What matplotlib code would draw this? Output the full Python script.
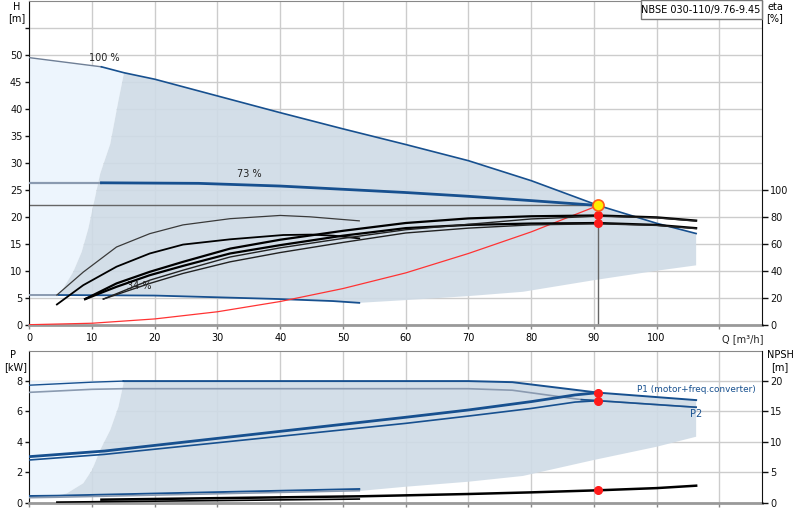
import matplotlib
matplotlib.use("Agg")
import matplotlib.pyplot as plt
from matplotlib.patches import Rectangle

# ---- data ----
# head curves (H [m] over Q [m3/h])
q100 = [0, 11.5, 15.1, 20, 30, 40, 50, 60, 70, 80, 90.7, 100, 106.3]
h100 = [49.5, 47.8, 46.7, 45.5, 42.4, 39.3, 36.3, 33.4, 30.4, 26.7, 22.1, 18.8, 16.9]
q73 = [0, 11.5, 27, 40, 60, 70, 80, 90.7]
h73 = [26.3, 26.3, 26.2, 25.7, 24.5, 23.8, 23.0, 22.1]
q34 = [0, 4.7, 20, 27.2, 40, 48.4, 52.6]
h34 = [5.5, 5.5, 5.4, 5.17, 4.75, 4.38, 4.05]

# operating area edges
edge_q = [4.7, 5.4, 7.0, 8.35, 9.4, 10.2, 11.3, 12.9, 14.2, 15.1]
edge_h = [5.5, 6.7, 9.8, 13.5, 17.8, 22.1, 28.0, 33.5, 41.5, 46.7]
low_q = [52.6, 60, 70, 78.7, 90, 100, 106.3]
low_h = [4.05, 4.56, 5.3, 6.1, 8.25, 10.0, 11.0]

# system curve
sys_q = [0, 10, 20, 30, 40, 50, 60, 70, 80, 90.7]
sys_h = [0, 0.27, 1.07, 2.4, 4.3, 6.7, 9.6, 13.2, 17.2, 22.1]

# efficiency curves (eta [%])
etaA_q = [4.4, 8.6, 13.9, 19.2, 24.5, 32, 40, 44.7, 52.6]
etaA = [22, 39, 57.6, 67.5, 74, 78.6, 81, 80, 77]
etaB_q = [4.4, 8.6, 13.9, 19.2, 24.5, 32, 40.5, 45, 48.5, 52.6]
etaB = [15, 29.3, 43, 52.8, 59.4, 63.3, 66.5, 66.8, 66, 64]
etaC_q = [8.9, 13.9, 19.2, 24.5, 32, 40, 50, 60, 70, 80, 90.7, 100, 106.3]
etaC1 = [19, 30.6, 39.2, 46.6, 56.4, 63, 69.6, 75.4, 78.8, 80.4, 81, 79.6, 77.2]
etaC2 = [19, 28.1, 36.7, 43.6, 52.8, 59, 66, 71.6, 74, 75, 75.4, 74, 71.6]
etaD_q = [11.8, 19.2, 24.5, 32, 40, 50, 60, 70, 80, 90.7, 100, 106.3]
etaD1 = [19, 33, 40.4, 50.2, 57, 64, 70.4, 74.4, 78.4, 80.4, 79.2, 76.8]
etaD2 = [19, 30.6, 38, 46.6, 53.5, 61, 68, 71.6, 74, 74.8, 73.6, 71.2]

# duty point
duty_q = 90.7
duty_h = 22.1
duty_eta = [81, 75.4]
duty_p = [7.24, 6.71]
duty_npsh = 2.04

# power curves (P [kW])
p100_q = [0, 10, 15, 70, 77, 90.7, 106.3]
p1_100 = [7.73, 7.93, 8.0, 8.0, 7.93, 7.24, 6.75]
p2_100_q = [0, 10, 15, 70, 77, 88, 90.7, 106.3]
p2_100 = [7.26, 7.46, 7.5, 7.5, 7.4, 6.78, 6.71, 6.28]
p73_q = [0, 12, 60, 70, 80, 87, 90.7]
p1_73 = [3.03, 3.4, 5.62, 6.1, 6.65, 7.09, 7.24]
p2_73 = [2.81, 3.18, 5.22, 5.7, 6.2, 6.62, 6.71]
p34_q = [0, 4.4, 52.6]
p1_34 = [0.44, 0.46, 0.9]
p2_34 = [0.33, 0.36, 0.79]
pedge_q = [4.4, 6.0, 8.6, 10.0, 11.3, 12.9, 14.2, 15.1]
pedge_p = [0.44, 0.62, 1.28, 2.15, 3.47, 4.78, 6.3, 8.0]
plow_q = [52.6, 60, 70, 78.7, 90, 100, 106.3]
plow_p = [0.77, 1.05, 1.38, 1.76, 2.81, 3.68, 4.34]

# NPSH curves [m]
npsh_q = [11.5, 30, 52.6, 60, 70, 80, 90.7, 100, 106.3]
npsh = [0.5, 0.75, 1.05, 1.21, 1.43, 1.7, 2.04, 2.4, 2.8]
npsh34_q = [4.4, 30, 52.6]
npsh34 = [0.1, 0.35, 0.6]

BLUE = '#17508f'
GREY_LINE = '#8a9ab0'
DARK_FILL = '#cfdbe6'
LIGHT_FILL = '#edf5fd'
GRID = '#cccccc'

plt.rcParams['font.family'] = 'DejaVu Sans'
plt.rcParams['font.size'] = 7

fig = plt.figure(figsize=(8, 5.2), dpi=100)
ax1 = fig.add_axes([0.03663, 0.37558, 0.91588, 0.6225])
ax2 = fig.add_axes([0.03663, 0.03327, 0.91588, 0.29231])


def style(ax):
    ax.set_xlim(0, 116.8)
    ax.set_xticks(range(0, 111, 10))
    ax.grid(True, color=GRID, lw=1.0, zorder=0)
    ax.set_axisbelow(True)
    ax.spines['left'].set_color('#111111')
    ax.spines['bottom'].set_color('#999999')
    ax.spines['bottom'].set_linewidth(2)
    ax.spines['top'].set_color('#888888')
    ax.spines['right'].set_visible(False)
    ax.tick_params(axis='y', length=3, width=1, pad=2, colors='#111111')
    ax.tick_params(axis='x', length=3, width=1, pad=3, color='#888888')


def twin(ax):
    tw = ax.twinx()
    for s in ['left', 'top', 'bottom']:
        tw.spines[s].set_visible(False)
    tw.spines['right'].set_color('#111111')
    tw.tick_params(axis='y', length=4, width=1, pad=2, colors='#111111')
    return tw


# ---------------- top panel ----------------
style(ax1)
ax1.set_ylim(0, 60)
ax1.set_yticks(range(0, 56, 5))
ax1.set_yticklabels([str(v) for v in range(0, 51, 5)] + [''])
ax1.set_xticklabels([str(v) for v in range(0, 101, 10)] + [''])

# light area (left of operating range)
lx = [0] + q100[:3] + edge_q[::-1] + [4.5, 0]
ly = [5.0] + h100[:3] + edge_h[::-1] + [5.0, 5.0]
ax1.fill(lx, ly, color=LIGHT_FILL, lw=0, zorder=1)
# operating area
dx = edge_q + q100[2:] + low_q[::-1] + q34[1:][::-1]
dy = edge_h + h100[2:] + low_h[::-1] + h34[1:][::-1]
ax1.fill(dx, dy, color=DARK_FILL, alpha=0.9, lw=0, zorder=1)

ax1.plot(q100[:2], h100[:2], color='#6f7f96', lw=1.0, zorder=3)
ax1.plot(q100[1:], h100[1:], color=BLUE, lw=1.2, zorder=3)
ax1.plot(q73[:2], h73[:2], color=GREY_LINE, lw=1.6, zorder=3)
ax1.plot(q73[1:], h73[1:], color=BLUE, lw=2.0, zorder=3)
ax1.plot(q34[:2], h34[:2], color=GREY_LINE, lw=1.4, zorder=3)
ax1.plot(q34[1:], h34[1:], color=BLUE, lw=1.3, zorder=3)

ax1.plot([0, duty_q], [duty_h, duty_h], color='#666666', lw=1.0, zorder=2)
ax1.plot([duty_q, duty_q], [0, duty_h], color='#666666', lw=1.0, zorder=2)
ax1.plot(sys_q, sys_h, color='#ff3333', lw=0.9, zorder=3)

ax1.text(11.9, 49.4, '100 %', ha='center', va='center', color='#222222')
ax1.text(35, 28.0, '73 %', ha='center', va='center', color='#222222')
ax1.text(17.5, 7.2, '34 %', ha='center', va='center', color='#222222')
ax1.text(110.5, -0.028, 'Q [m³/h]', transform=ax1.get_xaxis_transform(),
         ha='left', va='top', color='#222222')

ax1e = twin(ax1)
ax1e.set_ylim(0, 240)
ax1e.set_yticks(range(0, 101, 20))
ax1e.plot(etaA_q, etaA, color='#3a3a3a', lw=0.9)
ax1e.plot(etaB_q, etaB, color='black', lw=1.3)
ax1e.plot(etaC_q, etaC1, color='black', lw=1.6)
ax1e.plot(etaC_q, etaC2, color='black', lw=1.6)
ax1e.plot(etaD_q, etaD1, color='#222222', lw=1.0)
ax1e.plot(etaD_q, etaD2, color='#222222', lw=1.0)
ax1e.plot([duty_q] * 2, duty_eta, 'o', color='#ff1a1a', ms=5.5, zorder=5)
ax1e.plot([duty_q], [duty_h], 'o', transform=ax1.transData, ms=8,
          mfc='#ffee00', mec='#ff5a1a', mew=1.2, zorder=6)

# ---------------- bottom panel ----------------
style(ax2)
ax2.set_ylim(0, 10)
ax2.set_yticks(range(0, 9, 2))
ax2.set_xticklabels([])

ax2.fill([0, 15.1] + pedge_q[::-1] + [0], [8.0, 8.0] + pedge_p[::-1] + [0.4],
         color=LIGHT_FILL, lw=0, zorder=1)
dx2 = pedge_q + p100_q[3:] + plow_q[::-1] + p34_q[1:][::-1]
dy2 = pedge_p + p1_100[3:] + plow_p[::-1] + p1_34[1:][::-1]
ax2.fill(dx2, dy2, color=DARK_FILL, alpha=0.9, lw=0, zorder=1)

ax2.plot(p100_q[:3], p1_100[:3], color=BLUE, lw=1.0, zorder=3)
ax2.plot(p100_q[2:], p1_100[2:], color=BLUE, lw=1.4, zorder=3)
ax2.plot(p2_100_q, p2_100, color=GREY_LINE, lw=1.2, zorder=3)
ax2.plot(p2_100_q[5:], p2_100[5:], color=BLUE, lw=1.2, zorder=3)
ax2.plot(p73_q, p1_73, color=BLUE, lw=2.0, zorder=3)
ax2.plot(p73_q, p2_73, color=BLUE, lw=1.2, zorder=3)
ax2.plot(p34_q, p1_34, color=BLUE, lw=1.4, zorder=3)
ax2.plot(p34_q, p2_34, color=GREY_LINE, lw=1.2, zorder=3)
ax2.plot([duty_q] * 2, duty_p, 'o', color='#ff1a1a', ms=5.5, zorder=5)
ax2.text(96.8, 7.45, 'P1 (motor+freq.converter)', ha='left', va='center',
         color=BLUE, fontsize=6.4)
ax2.text(105.3, 5.85, 'P2', ha='left', va='center', color=BLUE)

ax2n = twin(ax2)
ax2n.set_ylim(0, 25)
ax2n.set_yticks(range(0, 21, 5))
ax2n.plot(npsh_q, npsh, color='black', lw=1.8)
ax2n.plot(npsh34_q, npsh34, color='black', lw=1.2)
ax2n.plot([duty_q], [duty_npsh], 'o', color='#ff1a1a', ms=5.5, zorder=5)

# axis titles
fig.text(17 / 800, 1 - 7 / 520, 'H', ha='center', va='center')
fig.text(17 / 800, 1 - 18 / 520, '[m]', ha='center', va='center')
fig.text(775 / 800, 1 - 7 / 520, 'eta', ha='center', va='center')
fig.text(775 / 800, 1 - 18 / 520, '[%]', ha='center', va='center')
fig.text(13 / 800, 1 - 355 / 520, 'P', ha='center', va='center')
fig.text(16 / 800, 1 - 367 / 520, '[kW]', ha='center', va='center')
fig.text(780 / 800, 1 - 355 / 520, 'NPSH', ha='center', va='center')
fig.text(780 / 800, 1 - 367 / 520, '[m]', ha='center', va='center')

# product label box
fig.patches.append(Rectangle((640.7 / 800, 1 - 19 / 520), 121 / 800, 19 / 520,
                             transform=fig.transFigure, fc='white',
                             ec='#777777', lw=1, zorder=10))
fig.text(701 / 800, 1 - 9.5 / 520, 'NBSE 030-110/9.76-9.45', ha='center',
         va='center', zorder=11)

fig.savefig('out.png', dpi=100)
